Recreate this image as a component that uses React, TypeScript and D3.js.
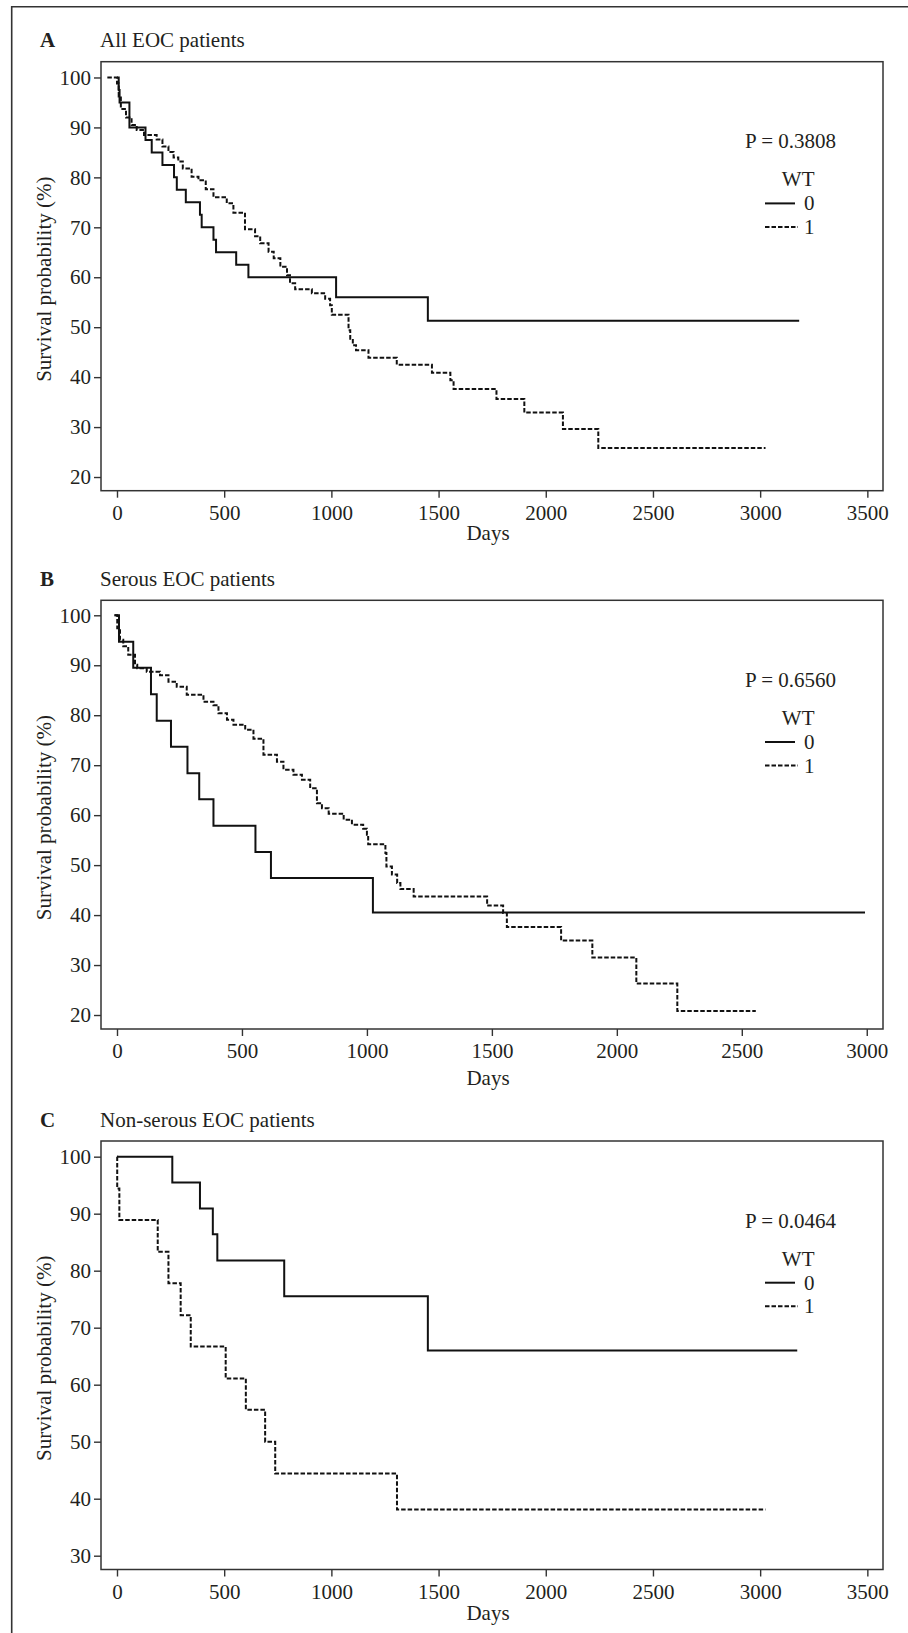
import React, { useEffect, useRef } from "react";
import * as d3 from "d3";

// panel texts
const panelLetters = ["A", "B", "C"];
const panelTitles = ["All EOC patients", "Serous EOC patients", "Non-serous EOC patients"];
const pValues = ["P = 0.3808", "P = 0.6560", "P = 0.0464"];
const legendTitle = "WT";
const groupLabels = ["0", "1"];
const xLabel = "Days";
const yLabel = "Survival probability (%)";

// tick values
const xTicksAC = [0, 500, 1000, 1500, 2000, 2500, 3000, 3500];
const xTicksB = [0, 500, 1000, 1500, 2000, 2500, 3000];
const yTicksAB = [20, 30, 40, 50, 60, 70, 80, 90, 100];
const yTicksC = [30, 40, 50, 60, 70, 80, 90, 100];

// A: all EOC patients
const daysA0 = [0, 8, 12, 58, 133, 162, 212, 266, 279, 321, 387, 395, 450, 462, 556, 613, 1022, 1450, 3182];
const survA0 = [100, 97.5, 95, 90, 87.5, 85, 82.5, 80, 77.5, 75, 72.5, 70, 67.5, 65, 62.5, 60, 56, 51.3, 51.3];
const daysA1 = [-45, 0, 8, 18, 42, 68, 92, 126, 185, 212, 240, 264, 286, 307, 348, 380, 414, 450, 512, 543, 597, 644, 668, 707, 731, 762, 793, 807, 831, 909, 971, 994, 1002, 1080, 1088, 1100, 1115, 1173, 1305, 1469, 1555, 1570, 1770, 1900, 2080, 2245, 3025];
const survA1 = [100, 98.8, 96.2, 93.7, 92, 90.5, 89.5, 88.5, 87.6, 86.2, 85.1, 84, 83.2, 81.8, 80.1, 79.4, 77.6, 76, 74.8, 72.9, 69.6, 68.2, 66.8, 65.1, 63.8, 62.1, 60.4, 58.8, 57.6, 56.8, 55.7, 54.4, 52.5, 49.4, 47.7, 46.4, 45.4, 43.9, 42.5, 40.9, 39.4, 37.6, 35.6, 32.9, 29.6, 25.8, 25.8];

// B: serous EOC patients
const daysB0 = [-10, 8, 65, 136, 159, 216, 282, 329, 386, 554, 616, 1024, 2993];
const survB0 = [100, 94.7, 89.5, 84.2, 78.9, 73.7, 68.4, 63.2, 57.9, 52.6, 47.4, 40.5, 40.5];
const daysB1 = [-10, 1, 12, 25, 45, 72, 81, 119, 172, 206, 239, 279, 346, 386, 406, 440, 466, 513, 546, 586, 640, 666, 706, 740, 773, 800, 820, 847, 907, 940, 985, 1000, 1005, 1074, 1078, 1100, 1121, 1134, 1187, 1481, 1545, 1560, 1777, 1902, 2078, 2242, 2556];
const survB1 = [100, 97.4, 95.1, 93.8, 92.1, 90.1, 89.4, 88.7, 88, 86.7, 85.7, 84.1, 82.7, 82, 80.4, 79.1, 78.1, 77.1, 75.3, 72.1, 70.7, 69.1, 68.1, 67.1, 65.4, 62.4, 61.4, 60.3, 59.1, 58.1, 57.3, 56.1, 54.2, 52.4, 49.7, 48.1, 46.4, 45.2, 43.7, 41.9, 40.4, 37.6, 34.9, 31.5, 26.3, 20.8, 20.8];

// C: non-serous EOC patients
const daysC0 = [0, 258, 387, 447, 468, 780, 1450, 3173];
const survC0 = [100, 95.45, 90.9, 86.4, 81.8, 75.5, 66, 66];
const daysC1 = [0, 1, 11, 190, 240, 297, 344, 507, 601, 691, 738, 1306, 3025];
const survC1 = [100, 94.4, 88.9, 83.3, 77.8, 72.2, 66.7, 61.1, 55.6, 50, 44.4, 38.1, 38.1];

const FONT = "'Liberation Serif', 'Times New Roman', serif";
const INK = "#231f20";

export default function App() {
  const svgRef = useRef<SVGSVGElement>(null);

  useEffect(() => {
    const width = 908;
    const height = 1633;
    const left = 101;
    const right = 883;

    const panels = [
      { top: 61.7, bottom: 490.7, xDomain: [-74.6, 3573], yDomain: [17.26, 103.16], xTicks: xTicksAC, yTicks: yTicksAB, daysGap: 49.3, series: [[daysA0, survA0], [daysA1, survA1]] },
      { top: 600.3, bottom: 1029, xDomain: [-64, 3065], yDomain: [17.2, 103.0], xTicks: xTicksB, yTicks: yTicksAB, daysGap: 55.5, series: [[daysB0, survB0], [daysB1, survB1]] },
      { top: 1141, bottom: 1569.5, xDomain: [-74.6, 3573], yDomain: [27.58, 102.75], xTicks: xTicksAC, yTicks: yTicksC, daysGap: 50.3, series: [[daysC0, survC0], [daysC1, survC1]] },
    ];

    const svg = d3.select(svgRef.current).attr("width", width).attr("height", height);
    svg.selectAll("*").remove();

    svg
      .append("rect")
      .attr("width", width)
      .attr("height", height)
      .attr("fill", "white");

    // outer frame (left and top only)
    svg
      .append("path")
      .attr("d", `M11.7,${height}V6.7H${width}`)
      .attr("fill", "none")
      .attr("stroke", "#333")
      .attr("stroke-width", 1.6);

    panels.forEach((p, i) => {
      const x = d3.scaleLinear().domain(p.xDomain).range([left, right]);
      const y = d3.scaleLinear().domain(p.yDomain).range([p.bottom, p.top]);
      const g = svg.append("g").attr("font-family", FONT).attr("fill", INK);

      g.append("text")
        .attr("x", 40)
        .attr("y", p.top - 14.5)
        .attr("font-size", 21)
        .attr("font-weight", "bold")
        .text(panelLetters[i]);

      g.append("text")
        .attr("x", 100)
        .attr("y", p.top - 14.5)
        .attr("font-size", 21)
        .text(panelTitles[i]);

      const yAxis = g
        .append("g")
        .attr("transform", `translate(${left},0)`)
        .call(d3.axisLeft(y).tickValues(p.yTicks).tickSize(7).tickPadding(3).tickFormat(d3.format("d")));
      yAxis.select(".domain").remove();

      const xAxis = g
        .append("g")
        .attr("transform", `translate(0,${p.bottom})`)
        .call(d3.axisBottom(x).tickValues(p.xTicks).tickSize(7).tickPadding(7.5).tickFormat(d3.format("d")));
      xAxis.select(".domain").remove();

      [yAxis, xAxis].forEach((ax) => {
        ax.attr("font-family", FONT).attr("font-size", 21);
        ax.selectAll("line").attr("stroke", "#333").attr("stroke-width", 1.4);
        ax.selectAll("text").attr("fill", INK);
      });

      g.append("rect")
        .attr("x", left)
        .attr("y", p.top)
        .attr("width", right - left)
        .attr("height", p.bottom - p.top)
        .attr("fill", "none")
        .attr("stroke", "#333")
        .attr("stroke-width", 1.5);

      g.append("text")
        .attr("x", 488)
        .attr("y", p.bottom + p.daysGap)
        .attr("text-anchor", "middle")
        .attr("font-size", 21)
        .text(xLabel);

      g.append("text")
        .attr("transform", `translate(51,${(p.top + p.bottom) / 2 + 3}) rotate(-90)`)
        .attr("text-anchor", "middle")
        .attr("font-size", 21)
        .text(yLabel);

      const line = d3
        .line<[number, number]>()
        .x((d) => x(d[0]))
        .y((d) => y(d[1]))
        .curve(d3.curveStepAfter);

      p.series.forEach(([days, surv], k) => {
        const pts = days.map((d, j) => [d, surv[j]] as [number, number]);
        g.append("path")
          .attr("d", line(pts))
          .attr("fill", "none")
          .attr("stroke", "#111")
          .attr("stroke-width", 2)
          .attr("stroke-dasharray", k === 1 ? "4.5 2" : null);
      });

      // p-value and legend
      g.append("text")
        .attr("x", 836)
        .attr("y", p.top + 86.5)
        .attr("text-anchor", "end")
        .attr("font-size", 21)
        .text(pValues[i]);

      g.append("text")
        .attr("x", 814.5)
        .attr("y", p.top + 124.5)
        .attr("text-anchor", "end")
        .attr("font-size", 21)
        .text(legendTitle);

      groupLabels.forEach((lab, k) => {
        const ly = p.top + 141.7 + k * 23.5;
        g.append("line")
          .attr("x1", 765)
          .attr("x2", k === 1 ? 798 : 795)
          .attr("y1", ly)
          .attr("y2", ly)
          .attr("stroke", "#111")
          .attr("stroke-width", 2)
          .attr("stroke-dasharray", k === 1 ? "4.5 2" : null);
        g.append("text")
          .attr("x", 804)
          .attr("y", ly + 7)
          .attr("font-size", 21)
          .text(lab);
      });
    });
  }, []);

  return (
    <svg
      ref={svgRef}
      style={{ position: "absolute", left: 0, top: 0, display: "block" }}
    ></svg>
  );
}
